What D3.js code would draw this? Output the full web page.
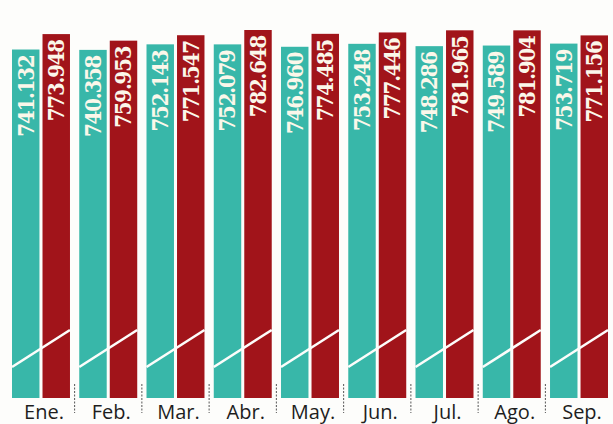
<!DOCTYPE html>
<html>
<head>
<meta charset="utf-8">
<script src="https://cdn.jsdelivr.net/npm/d3@7"></script>
<style>
  body { margin: 0; background: #fdfdfb; }
  svg { display: block; }
</style>
</head>
<body>
<div id="chart"></div>
<script>
// data
var months = ["Ene.", "Feb.", "Mar.", "Abr.", "May.", "Jun.", "Jul.", "Ago.", "Sep."];
var series = ["a", "b"];
var valuesA = [741132, 740358, 752143, 752079, 746960, 753248, 748286, 749589, 753719];
var valuesB = [773948, 759953, 771547, 782648, 774485, 777446, 781965, 781904, 771156];
var colors = { a: "#38b7a9", b: "#a1141a" };

var width = 613,
    height = 424,
    baseY = 398;

var svg = d3.select("#chart").append("svg")
    .attr("width", width)
    .attr("height", height);

// spanish number format: 741.132
var es = d3.formatLocale({ decimal: ",", thousands: ".", grouping: [3], currency: ["", "€"] });
var fmt = es.format(",d");

var rows = months.map(function(m, i) {
  return { month: m, a: valuesA[i], b: valuesB[i] };
});

var x0 = d3.scaleBand()
    .domain(months)
    .range([12, 608])
    .paddingInner(0.138);

var x1 = d3.scaleBand()
    .domain(series)
    .range([0, x0.bandwidth()])
    .paddingInner(0.1);

var y = d3.scaleLinear()
    .domain([0, d3.max(valuesB)])
    .range([baseY, 30]);

var groups = svg.selectAll(".group")
  .data(rows)
  .enter().append("g")
    .attr("class", "group")
    .attr("transform", function(d) { return "translate(" + x0(d.month) + ",0)"; });

groups.selectAll("rect")
  .data(function(d) { return series.map(function(k) { return { key: k, value: d[k] }; }); })
  .enter().append("rect")
    .attr("x", function(d) { return x1(d.key); })
    .attr("y", function(d) { return y(d.value); })
    .attr("width", x1.bandwidth())
    .attr("height", function(d) { return baseY - y(d.value); })
    .attr("fill", function(d) { return colors[d.key]; });

groups.selectAll(".val")
  .data(function(d) { return series.map(function(k) { return { key: k, value: d[k] }; }); })
  .enter().append("text")
    .attr("class", "val")
    .attr("transform", function(d) {
      return "translate(" + (x1(d.key) + x1.bandwidth() / 2) + "," + (y(d.value) + 6) + ") rotate(-90)";
    })
    .attr("text-anchor", "end")
    .attr("dy", "0.36em")
    .style("font-family", "'DejaVu Serif Condensed', 'DejaVu Serif', serif")
    .style("font-stretch", "condensed")
    .style("font-weight", "bold")
    .style("font-size", "22px")
    .style("letter-spacing", "-1.2px")
    .attr("fill", "#fbf7ea")
    .text(function(d) { return fmt(d.value); });

// white slash across the bottom of each pair (axis break)
groups.append("line")
    .attr("x1", 0)
    .attr("y1", 367)
    .attr("x2", x0.bandwidth())
    .attr("y2", 330)
    .attr("stroke", "#fdfdfb")
    .attr("stroke-width", 2.6);

// month labels
groups.append("text")
    .attr("x", x0.bandwidth() / 2 + 3)
    .attr("y", 419)
    .attr("text-anchor", "middle")
    .style("font-family", "'Open Sans', sans-serif")
    .style("font-size", "20px")
    .attr("fill", "#1e1e1e")
    .text(function(d) { return d.month; });

// dashed separators between months
svg.selectAll(".sep")
  .data(months.slice(1))
  .enter().append("line")
    .attr("class", "sep")
    .attr("x1", function(m) { return x0(m) - x0.step() * x0.paddingInner() / 2; })
    .attr("x2", function(m) { return x0(m) - x0.step() * x0.paddingInner() / 2; })
    .attr("y1", 384)
    .attr("y2", 413)
    .attr("stroke", "#555")
    .attr("stroke-width", 1)
    .attr("stroke-dasharray", "2,1.5");
</script>
</body>
</html>
